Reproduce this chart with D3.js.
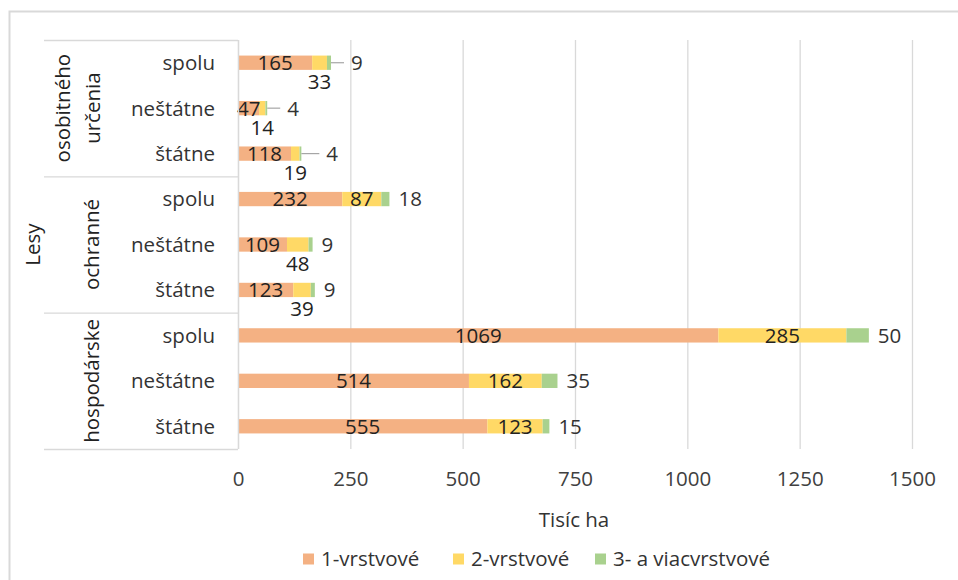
<!DOCTYPE html>
<html>
<head>
<meta charset="utf-8">
<script src="https://cdn.jsdelivr.net/npm/d3@7"></script>
<style>
  body { margin: 0; background: #fff; }
  svg text { font-family: "Open Sans", sans-serif; }
</style>
</head>
<body>
<div id="chart"></div>
<script>
// data (top row first)
const groups = ["osobitného určenia", "ochranné", "hospodárske"];
const rows = ["spolu", "neštátne", "štátne"];
const series = ["1-vrstvové", "2-vrstvové", "3- a viacvrstvové"];
const vrstva1 = [165, 47, 118, 232, 109, 123, 1069, 514, 555];
const vrstva2 = [33, 14, 19, 87, 48, 39, 285, 162, 123];
const vrstva3 = [9, 4, 4, 18, 9, 9, 50, 35, 15];
const xTicks = [0, 250, 500, 750, 1000, 1250, 1500];
const colors = ["#F4B183", "#FFD966", "#A9D18E"];

const W = 958, H = 580;
const plotLeft = 238, plotRight = 912, plotTop = 40, plotBottom = 449;
const fs = 20.5;

const svg = d3.select("#chart").append("svg")
    .attr("width", W).attr("height", H);

// chart border (cropped on right and bottom)
svg.append("rect")
    .attr("x", 9.5).attr("y", 11.5)
    .attr("width", W + 20).attr("height", H + 20)
    .attr("fill", "none").attr("stroke", "#d9d9d9").attr("stroke-width", 2);

let table = [];
groups.forEach((g, gi) => rows.forEach((r, ri) => {
    let i = gi * 3 + ri;
    table.push({key: g + "|" + r, group: g, row: r, v: [vrstva1[i], vrstva2[i], vrstva3[i]]});
}));

const x = d3.scaleLinear().domain([0, 1500]).range([plotLeft, plotRight]);
const y = d3.scaleBand().domain(table.map(d => d.key)).range([plotTop, plotBottom]);
const barH = 14.3;

// gridlines
svg.append("g").selectAll("line").data(xTicks).enter().append("line")
    .attr("x1", d => x(d) + 0.5).attr("x2", d => x(d) + 0.5)
    .attr("y1", plotTop).attr("y2", plotBottom)
    .attr("stroke", "#d9d9d9").attr("stroke-width", 1.3);

// x axis tick labels
const xAxis = svg.append("g")
    .attr("transform", `translate(0,${plotBottom})`)
    .call(d3.axisBottom(x).tickValues(xTicks).tickFormat(d3.format("d")).tickSize(0).tickPadding(22));
xAxis.select(".domain").remove();
xAxis.selectAll("text")
    .style("font-family", "'Open Sans', sans-serif")
    .attr("font-size", fs).attr("fill", "#404040");

svg.append("text")
    .attr("x", 574).attr("y", 527)
    .attr("text-anchor", "middle").attr("font-size", fs).attr("fill", "#333")
    .text("Tisíc ha");

// stacked bars
const stacked = table.map(d => {
    let acc = 0;
    return d.v.map((v, s) => { let seg = {d: d, s: s, v: v, x0: acc, x1: acc + v}; acc += v; return seg; });
});

const bars = svg.append("g");
stacked.forEach(segs => {
    bars.selectAll(null).data(segs).enter().append("rect")
        .attr("x", s => x(s.x0))
        .attr("width", s => x(s.x1) - x(s.x0))
        .attr("y", s => y(s.d.key) + y.bandwidth() / 2 - barH / 2)
        .attr("height", barH)
        .attr("fill", s => colors[s.s]);
});

// data labels
const labels = svg.append("g").attr("font-size", fs).attr("fill", "#222");
stacked.forEach(segs => {
    let cy = y(segs[0].d.key) + y.bandwidth() / 2;
    // series 1, centred in the segment
    let s1 = segs[0];
    let t1 = labels.append("text").attr("y", cy).attr("dy", "0.36em")
        .attr("text-anchor", "middle").text(s1.v);
    let w1 = t1.node().getComputedTextLength();
    t1.attr("x", Math.max(x(s1.x0) + w1 / 2 - 1, (x(s1.x0) + x(s1.x1)) / 2));

    // series 2, inside if it fits, otherwise under the bar
    let s2 = segs[1];
    let t2 = labels.append("text").attr("text-anchor", "middle").text(s2.v)
        .attr("x", (x(s2.x0) + x(s2.x1)) / 2);
    let w2 = t2.node().getComputedTextLength();
    if (x(s2.x1) - x(s2.x0) > w2 + 4) {
        t2.attr("y", cy).attr("dy", "0.36em");
    } else {
        t2.attr("y", cy + 19).attr("dy", "0.36em");
    }

    // series 3, right of the bar; leader line for the small group
    let s3 = segs[2];
    let end = x(s3.x1);
    let lx = end + 9;
    if (s3.d.group === groups[0]) {
        let len = s3.d.row === "štátne" ? 18 : 13;
        labels.append("line")
            .attr("x1", end).attr("x2", end + len)
            .attr("y1", cy).attr("y2", cy)
            .attr("stroke", "#a6a6a6").attr("stroke-width", 1.2);
        lx = end + len + 7;
    }
    labels.append("text").attr("x", lx).attr("y", cy).attr("dy", "0.36em")
        .attr("fill", "#333").text(s3.v);
});

// category axis: row labels
svg.append("g").selectAll("text").data(table).enter().append("text")
    .attr("x", 215).attr("y", d => y(d.key) + y.bandwidth() / 2).attr("dy", "0.36em")
    .attr("text-anchor", "end").attr("font-size", fs).attr("fill", "#333")
    .text(d => d.row);

// axis line and group separators
svg.append("line")
    .attr("x1", plotLeft + 0.5).attr("x2", plotLeft + 0.5).attr("y1", plotTop).attr("y2", plotBottom)
    .attr("stroke", "#d9d9d9").attr("stroke-width", 1.3);
const seps = [0, 3, 6].map(i => y(table[i].key)).concat([plotBottom]);
svg.append("g").selectAll("line").data(seps).enter().append("line")
    .attr("x1", 44).attr("x2", plotLeft).attr("y1", d => d + 0.5).attr("y2", d => d + 0.5)
    .attr("stroke", "#d9d9d9").attr("stroke-width", 1.3);

// group labels (rotated)
groups.forEach((g, gi) => {
    let cy = (seps[gi] + seps[gi + 1]) / 2;
    let lines = g.split(" ");
    let cx0 = lines.length > 1 ? 63 : 92;
    lines.forEach((ln, li) => {
        svg.append("text")
            .attr("transform", `translate(${cx0 + li * 30},${cy}) rotate(-90)`)
            .attr("dy", "0.36em").attr("text-anchor", "middle")
            .attr("font-size", fs).attr("fill", "#222")
            .text(ln);
    });
});

svg.append("text")
    .attr("transform", `translate(33,${(plotTop + plotBottom) / 2}) rotate(-90)`)
    .attr("dy", "0.36em").attr("text-anchor", "middle")
    .attr("font-size", fs).attr("fill", "#222")
    .text("Lesy");

// legend
const legX = [303, 453, 595];
const leg = svg.append("g").selectAll("g").data(series).enter().append("g")
    .attr("transform", (d, i) => `translate(${legX[i]},559)`);
leg.append("rect").attr("x", 0).attr("y", -5.5).attr("width", 11).attr("height", 11)
    .attr("fill", (d, i) => colors[i]);
leg.append("text").attr("x", 18).attr("dy", "0.36em")
    .attr("font-size", fs).attr("fill", "#333").text(d => d);
</script>
</body>
</html>
